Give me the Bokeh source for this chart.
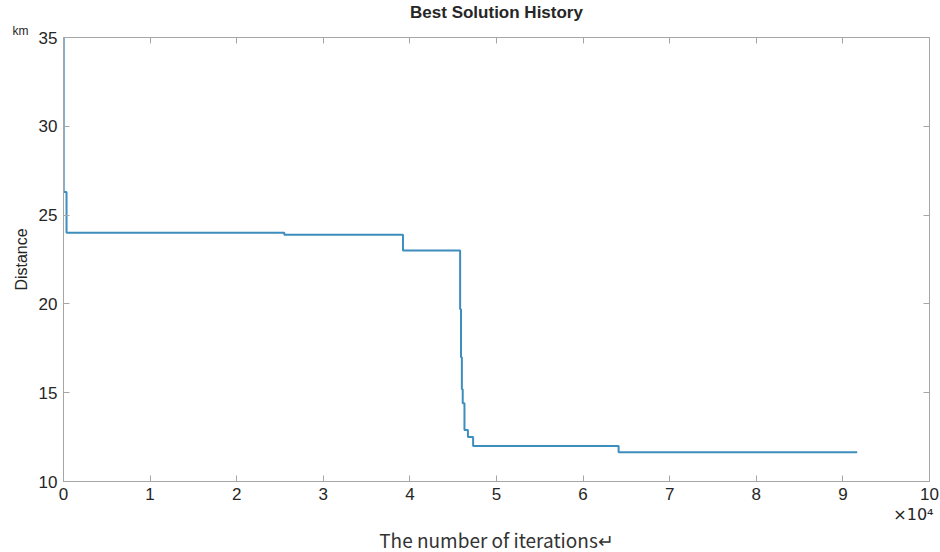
from bokeh.plotting import figure
from bokeh.models import Range1d, LinearAxis, Title, FixedTicker, CustomJSTickFormatter
from bokeh.embed import file_html
from bokeh.resources import INLINE

# Best-solution history (step changes)
iterations = [0, 20, 350, 25500, 39200, 45800, 45900, 46000, 46100, 46300, 46700, 47300, 64100, 91650]
distance = [35.0, 26.3, 24.0, 23.9, 23.0, 19.7, 17.0, 15.2, 14.4, 12.9, 12.5, 12.0, 11.65, 11.65]

x_ticks = [0, 10000, 20000, 30000, 40000, 50000, 60000, 70000, 80000, 90000, 100000]
y_ticks = [10, 15, 20, 25, 30, 35]

FONT = "Liberation Sans"
TXT = "#262626"
AX = "#a6a6a6"

p = figure(width=940, height=552, output_backend="svg", toolbar_location=None,
           x_range=Range1d(0, 100000), y_range=Range1d(10, 35), title=None,
           min_border_left=63, min_border_right=11, min_border_top=35, min_border_bottom=71,
           background_fill_color="white", border_fill_color="white")

p.step(iterations, distance, mode="after", line_color="#3d8dbd", line_width=2)

p.xgrid.visible = False
p.ygrid.visible = False
p.outline_line_color = AX
p.outline_line_width = 1

fmt = CustomJSTickFormatter(code="return (tick/10000).toString();")

for ax in (p.xaxis[0], p.yaxis[0]):
    ax.axis_line_color = AX
    ax.major_tick_line_color = AX
    ax.major_tick_in = 6
    ax.major_tick_out = 0
    ax.minor_tick_line_color = None
    ax.major_label_text_font = FONT
    ax.major_label_text_font_size = "17px"
    ax.major_label_text_color = TXT

p.xaxis[0].ticker = FixedTicker(ticks=x_ticks)
p.xaxis[0].formatter = fmt
p.xaxis[0].major_label_standoff = 6
p.yaxis[0].ticker = FixedTicker(ticks=y_ticks)
p.yaxis[0].major_label_standoff = 6

p.yaxis[0].axis_label = "Distance"
p.yaxis[0].axis_label_text_font = FONT
p.yaxis[0].axis_label_text_font_size = "16px"
p.yaxis[0].axis_label_text_font_style = "normal"
p.yaxis[0].axis_label_text_color = TXT
p.yaxis[0].axis_label_standoff = 6

# top / right box ticks
top = LinearAxis(ticker=FixedTicker(ticks=x_ticks), axis_line_color=None,
                 major_tick_line_color=AX, major_tick_in=6, major_tick_out=0,
                 minor_tick_line_color=None, major_label_text_font_size="0px",
                 major_label_standoff=0)
right = LinearAxis(ticker=FixedTicker(ticks=y_ticks), axis_line_color=None,
                   major_tick_line_color=AX, major_tick_in=6, major_tick_out=0,
                   minor_tick_line_color=None, major_label_text_font_size="0px",
                   major_label_standoff=0)
p.add_layout(top, "above")
p.add_layout(right, "right")

# unit label above the y axis
p.add_layout(Title(text="km", text_font=FONT, text_font_size="12px", text_color=TXT,
                   text_font_style="normal", align="left", offset=-51, standoff=0), "above")
# main title
p.add_layout(Title(text="Best Solution History", text_font=FONT, text_font_size="17px",
                   text_color=TXT, text_font_style="bold", align="center", offset=1,
                   standoff=0), "above")
# x scale factor
p.add_layout(Title(text="×10⁴", text_font="DejaVu Sans", text_font_size="16px", text_color=TXT,
                   text_font_style="normal", align="right", offset=-4, standoff=0), "below")
# x axis title
p.add_layout(Title(text="The number of iterations\u21b5", text_font="Noto Sans CJK SC",
                   text_font_size="19px", text_color="#333333", text_font_style="normal",
                   align="center", offset=16, standoff=0), "below")

open("out.html", "w").write(file_html(p, INLINE))
